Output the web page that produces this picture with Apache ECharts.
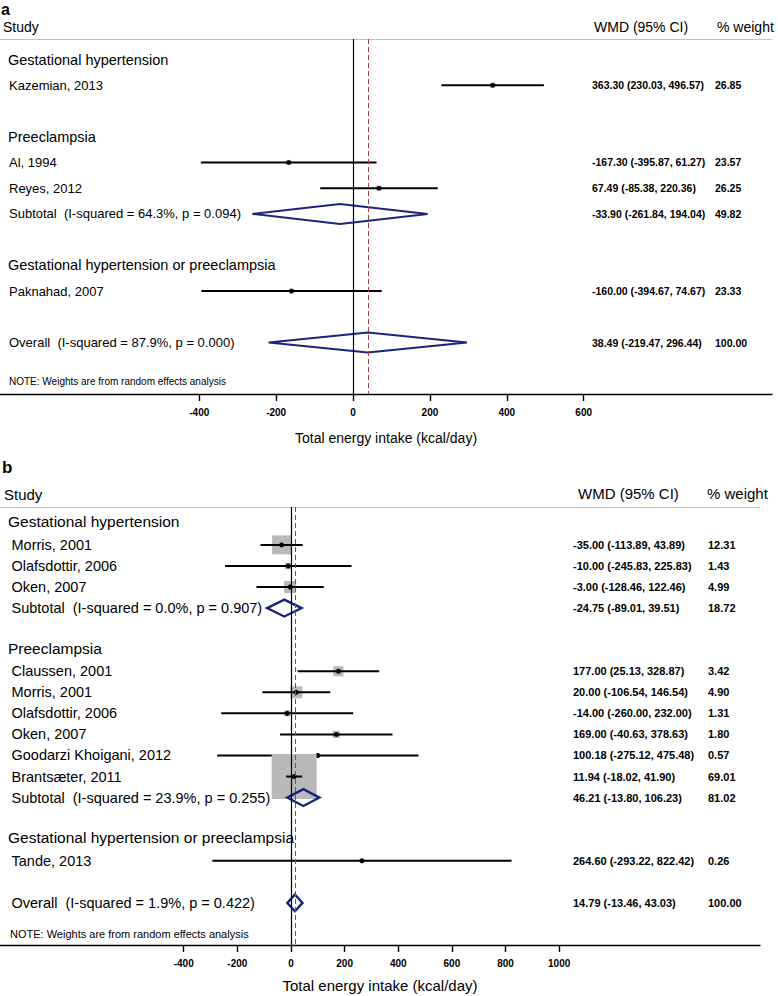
<!DOCTYPE html>
<html>
<head>
<meta charset="utf-8">
<script src="https://cdn.jsdelivr.net/npm/echarts@6/dist/echarts.min.js"></script>
<style>
html,body{margin:0;padding:0;background:#fff;}
#chart{width:778px;height:996px;}
</style>
</head>
<body>
<div id="chart"></div>
<script>
// ---------------- Panel a data ----------------
const aGroups = ['Gestational hypertension', 'Preeclampsia', 'Gestational hypertension or preeclampsia'];
const aStudies = ['Kazemian, 2013', 'Al, 1994', 'Reyes, 2012', 'Paknahad, 2007'];
const aStudyGroup = [0, 1, 1, 2];
const aWmd = [363.30, -167.30, 67.49, -160.00];
const aLower = [230.03, -395.87, -85.38, -394.67];
const aUpper = [496.57, 61.27, 220.36, 74.67];
const aWeight = [26.85, 23.57, 26.25, 23.33];
const aSubtotalGroup = [1];
const aSubtotalLabel = ['Subtotal\u00a0 (I-squared = 64.3%, p = 0.094)'];
const aSubtotalWmd = [-33.90];
const aSubtotalLower = [-261.84];
const aSubtotalUpper = [194.04];
const aSubtotalWeight = [49.82];
const aOverallLabel = 'Overall\u00a0 (I-squared = 87.9%, p = 0.000)';
const aOverallWmd = 38.49;
const aOverallLower = -219.47;
const aOverallUpper = 296.44;
const aOverallWeight = 100.00;
const aTicks = [-400, -200, 0, 200, 400, 600];

// ---------------- Panel b data ----------------
const bGroups = ['Gestational hypertension', 'Preeclampsia', 'Gestational hypertension or preeclampsia'];
const bStudies = ['Morris, 2001', 'Olafsdottir, 2006', 'Oken, 2007', 'Claussen, 2001', 'Morris, 2001',
  'Olafsdottir, 2006', 'Oken, 2007', 'Goodarzi Khoigani, 2012', 'Brantsæter, 2011', 'Tande, 2013'];
const bStudyGroup = [0, 0, 0, 1, 1, 1, 1, 1, 1, 2];
const bWmd = [-35.00, -10.00, -3.00, 177.00, 20.00, -14.00, 169.00, 100.18, 11.94, 264.60];
const bLower = [-113.89, -245.83, -128.46, 25.13, -106.54, -260.00, -40.63, -275.12, -18.02, -293.22];
const bUpper = [43.89, 225.83, 122.46, 328.87, 146.54, 232.00, 378.63, 475.48, 41.90, 822.42];
const bWeight = [12.31, 1.43, 4.99, 3.42, 4.90, 1.31, 1.80, 0.57, 69.01, 0.26];
const bSubtotalGroup = [0, 1];
const bSubtotalLabel = ['Subtotal\u00a0 (I-squared = 0.0%, p = 0.907)', 'Subtotal\u00a0 (I-squared = 23.9%, p = 0.255)'];
const bSubtotalWmd = [-24.75, 46.21];
const bSubtotalLower = [-89.01, -13.80];
const bSubtotalUpper = [39.51, 106.23];
const bSubtotalWeight = [18.72, 81.02];
const bOverallLabel = 'Overall\u00a0 (I-squared = 1.9%, p = 0.422)';
const bOverallWmd = 14.79;
const bOverallLower = -13.46;
const bOverallUpper = 43.03;
const bOverallWeight = 100.00;
const bTicks = [-400, -200, 0, 200, 400, 600, 800, 1000];

const noteText = 'NOTE: Weights are from random effects analysis';
const axisTitle = 'Total energy intake (kcal/day)';

// Build the row layout (header, studies, subtotal, spacer per group; then overall, note)
function buildRows(p) {
  const rows = [];
  let r = 0;
  p.groups.forEach(function (g, gi) {
    rows.push({ row: r++, type: 'header', label: g });
    p.studies.forEach(function (s, i) {
      if (p.studyGroup[i] === gi) {
        rows.push({ row: r++, type: 'study', label: s, est: p.wmd[i], lo: p.lower[i], hi: p.upper[i], w: p.weight[i] });
      }
    });
    const si = p.subtotalGroup.indexOf(gi);
    if (si >= 0) {
      rows.push({ row: r++, type: 'pooled', label: p.subLabel[si], est: p.subWmd[si], lo: p.subLower[si], hi: p.subUpper[si], w: p.subWeight[si] });
    }
    r++; // spacer
  });
  rows.push({ row: r++, type: 'pooled', label: p.overall.label, est: p.overall.est, lo: p.overall.lo, hi: p.overall.hi, w: p.overall.w });
  rows.push({ row: r + 0.5, type: 'note', label: noteText });
  return rows;
}

const rowsA = buildRows({
  groups: aGroups, studies: aStudies, studyGroup: aStudyGroup, wmd: aWmd, lower: aLower, upper: aUpper, weight: aWeight,
  subtotalGroup: aSubtotalGroup, subLabel: aSubtotalLabel, subWmd: aSubtotalWmd, subLower: aSubtotalLower, subUpper: aSubtotalUpper, subWeight: aSubtotalWeight,
  overall: { label: aOverallLabel, est: aOverallWmd, lo: aOverallLower, hi: aOverallUpper, w: aOverallWeight }
});
const rowsB = buildRows({
  groups: bGroups, studies: bStudies, studyGroup: bStudyGroup, wmd: bWmd, lower: bLower, upper: bUpper, weight: bWeight,
  subtotalGroup: bSubtotalGroup, subLabel: bSubtotalLabel, subWmd: bSubtotalWmd, subLower: bSubtotalLower, subUpper: bSubtotalUpper, subWeight: bSubtotalWeight,
  overall: { label: bOverallLabel, est: bOverallWmd, lo: bOverallLower, hi: bOverallUpper, w: bOverallWeight }
});

const FF = '"Liberation Sans", Arial, Helvetica, sans-serif';
const NAVY = '#1b2479';
const REDDASH = '#b0383c';
const BOXGREY = '#b9b9b9';

// style settings per panel (pixel offsets and font sizes)
const styleA = { headerX: 8, headerDy: 0, headerSize: 14.5, labelX: 9, labelSize: 13, noteSize: 10, noteX: 9,
  wmdX: 592, weightX: 715, valueSize: 10.5, boxScale: 1.05, dotR: 2.3, ciWidth: 2, diamondHalf: 10, diamondWidth: 2 };
const styleB = { headerX: 8, headerDy: -2, headerSize: 15.5, labelX: 11.5, labelSize: 14.5, noteSize: 11, noteX: 10,
  wmdX: 573, weightX: 708, valueSize: 11, boxScale: 5.42, dotR: 2.5, ciWidth: 2, diamondHalf: 8.4, diamondWidth: 2.4 };

function fmt(v) { return v.toFixed(2); }

function textRender(rows, st) {
  return function (params, api) {
    const r = rows[params.dataIndex];
    const y = api.coord([0, api.value(1)])[1];
    const x0 = params.coordSys.x;
    const kids = [];
    let x = x0 + st.labelX, size = st.labelSize, dy = 0;
    if (r.type === 'header') { x = x0 + st.headerX; size = st.headerSize; dy = st.headerDy; }
    if (r.type === 'note') { x = x0 + st.noteX; size = st.noteSize; }
    kids.push({ type: 'text', style: { text: r.label, x: x, y: y + dy, fill: '#000', fontSize: size, fontFamily: FF, align: 'left', verticalAlign: 'middle' } });
    if (r.type === 'study' || r.type === 'pooled') {
      kids.push({ type: 'text', style: { text: fmt(r.est) + ' (' + fmt(r.lo) + ', ' + fmt(r.hi) + ')', x: x0 + st.wmdX, y: y, fill: '#000', fontSize: st.valueSize, fontWeight: 'bold', fontFamily: FF, align: 'left', verticalAlign: 'middle' } });
      kids.push({ type: 'text', style: { text: fmt(r.w), x: x0 + st.weightX, y: y, fill: '#000', fontSize: st.valueSize, fontWeight: 'bold', fontFamily: FF, align: 'left', verticalAlign: 'middle' } });
    }
    return { type: 'group', children: kids };
  };
}

function studyRender(st) {
  return function (params, api) {
    const c = api.coord([api.value(0), api.value(1)]);
    const l = api.coord([api.value(2), api.value(1)]);
    const h = api.coord([api.value(3), api.value(1)]);
    const side = Math.sqrt(api.value(4)) * st.boxScale;
    return { type: 'group', children: [
      { type: 'rect', shape: { x: c[0] - side / 2, y: c[1] - side / 2, width: side, height: side }, style: { fill: BOXGREY } },
      { type: 'line', shape: { x1: l[0], y1: l[1], x2: h[0], y2: h[1] }, style: { stroke: '#000', lineWidth: st.ciWidth } },
      { type: 'circle', shape: { cx: c[0], cy: c[1], r: st.dotR }, style: { fill: '#000' } }
    ] };
  };
}

function diamondRender(st) {
  return function (params, api) {
    const c = api.coord([api.value(0), api.value(1)]);
    const l = api.coord([api.value(2), api.value(1)]);
    const h = api.coord([api.value(3), api.value(1)]);
    const d = st.diamondHalf;
    return { type: 'polygon', shape: { points: [[l[0], c[1]], [c[0], c[1] - d], [h[0], c[1]], [c[0], c[1] + d]] },
      style: { fill: 'none', stroke: NAVY, lineWidth: st.diamondWidth } };
  };
}

function panelSeries(idx, rows, st, overallEst) {
  const studies = rows.filter(function (r) { return r.type === 'study'; });
  const pooled = rows.filter(function (r) { return r.type === 'pooled'; });
  return [
    { type: 'scatter', xAxisIndex: idx * 2, yAxisIndex: idx, z: 1, symbolSize: 0, silent: true,
      data: pooled.map(function (r) { return [r.est, r.row]; }),
      markLine: { silent: true, symbol: ['none', 'none'], label: { show: false }, animation: false,
        data: [
          { xAxis: 0, lineStyle: { color: '#000', width: 1.2, type: 'solid' } },
          { xAxis: overallEst, lineStyle: { color: REDDASH, width: 1, type: [5, 3] } }
        ] } },
    { type: 'custom', xAxisIndex: idx * 2, yAxisIndex: idx, z: 3, silent: true,
      data: studies.map(function (r) { return [r.est, r.row, r.lo, r.hi, r.w]; }),
      renderItem: studyRender(st) },
    { type: 'custom', xAxisIndex: idx * 2, yAxisIndex: idx, z: 4, silent: true,
      data: pooled.map(function (r) { return [r.est, r.row, r.lo, r.hi, r.w]; }),
      renderItem: diamondRender(st) },
    { type: 'custom', xAxisIndex: idx * 2, yAxisIndex: idx, z: 5, silent: true,
      data: rows.map(function (r) { return [0, r.row]; }),
      renderItem: textRender(rows, st) }
  ];
}

function bottomAxis(grid, min, max, ticks, fs, gap) {
  return { gridIndex: grid, type: 'value', min: min, max: max, position: 'bottom',
    axisLine: { show: true, onZero: false, lineStyle: { color: '#000', width: 1.4 } },
    axisTick: { show: true, customValues: ticks, length: 7, lineStyle: { color: '#000', width: 1.4 } },
    axisLabel: { show: true, customValues: ticks, margin: 13, fontSize: 10, fontWeight: 'bold', color: '#000', fontFamily: FF,
      formatter: function (v) { return String(v); } },
    splitLine: { show: false },
    name: axisTitle, nameLocation: 'middle', nameGap: gap,
    nameTextStyle: { fontSize: fs, color: '#000', fontFamily: FF } };
}
function topAxis(grid, min, max) {
  return { gridIndex: grid, type: 'value', min: min, max: max, position: 'top',
    axisLine: { show: true, onZero: false, lineStyle: { color: '#c4c4c4', width: 1 } },
    axisTick: { show: false }, axisLabel: { show: false }, splitLine: { show: false } };
}

const chart = echarts.init(document.getElementById('chart'), null, { renderer: 'svg' });
chart.setOption({
  animation: false,
  backgroundColor: '#fff',
  grid: [
    { left: 0, top: 39, width: 772, height: 355 },
    { left: 0, top: 507, width: 760, height: 438 }
  ],
  xAxis: [
    bottomAxis(0, -918.5, 1090, aTicks, 14, 37),
    topAxis(0, -918.5, 1090),
    bottomAxis(1, -1085, 1749, bTicks, 15, 33),
    topAxis(1, -1085, 1749)
  ],
  yAxis: [
    { gridIndex: 0, type: 'value', min: -0.8, max: 13, inverse: true, show: false },
    { gridIndex: 1, type: 'value', min: -0.8, max: 20, inverse: true, show: false }
  ],
  graphic: [
    { type: 'text', x: 1, y: 9, style: { text: 'a', fontSize: 16, fontWeight: 'bold', fontFamily: FF, fill: '#000', verticalAlign: 'middle' } },
    { type: 'text', x: 3, y: 27, style: { text: 'Study', fontSize: 14, fontFamily: FF, fill: '#000', verticalAlign: 'middle' } },
    { type: 'text', x: 594, y: 27, style: { text: 'WMD (95% CI)', fontSize: 14, fontFamily: FF, fill: '#000', verticalAlign: 'middle' } },
    { type: 'text', x: 717, y: 27, style: { text: '% weight', fontSize: 14, fontFamily: FF, fill: '#000', verticalAlign: 'middle' } },
    { type: 'text', x: 2, y: 467, style: { text: 'b', fontSize: 17, fontWeight: 'bold', fontFamily: FF, fill: '#000', verticalAlign: 'middle' } },
    { type: 'text', x: 4, y: 494, style: { text: 'Study', fontSize: 15, fontFamily: FF, fill: '#000', verticalAlign: 'middle' } },
    { type: 'text', x: 578, y: 493, style: { text: 'WMD (95% CI)', fontSize: 15, fontFamily: FF, fill: '#000', verticalAlign: 'middle' } },
    { type: 'text', x: 707, y: 493, style: { text: '% weight', fontSize: 15, fontFamily: FF, fill: '#000', verticalAlign: 'middle' } }
  ],
  series: panelSeries(0, rowsA, styleA, aOverallWmd).concat(panelSeries(1, rowsB, styleB, bOverallWmd))
});
</script>
</body>
</html>
